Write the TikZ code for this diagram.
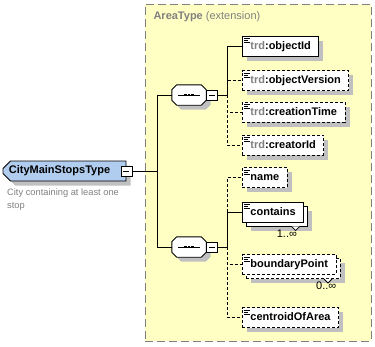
\documentclass[tikz,border=0pt]{standalone}
\usepackage{fontspec}
\setmainfont{Liberation Sans}
\usetikzlibrary{positioning, shapes.misc, shadows}

\definecolor{areaYellow}{RGB}{255,255,196}
\definecolor{shadowGray}{RGB}{192,192,192}
\definecolor{typeBlue}{RGB}{176,204,238}
\definecolor{noteGray}{RGB}{128,128,128}

\newcommand\trdprefix{\textcolor{noteGray}{trd}:}

\tikzset{
  conn/.style={line width=0.9pt},
  opt/.style={dash pattern=on 3pt off 2pt},
  boxshadow/.style={drop shadow={shadow xshift=4.5pt, shadow yshift=-4.5pt,
      fill=shadowGray, opacity=1, draw=none}},
  % element box with the little "three lines" mark in its corner
  elembase/.style={
    draw, fill=white, line width=0.9pt,
    font=\fontsize{11}{13}\selectfont\bfseries,
    minimum height=20pt, inner xsep=8pt, inner ysep=0pt,
    text height=8pt, text depth=2pt, anchor=west,
    path picture={
      \draw[solid, line width=0.8pt]
        ([shift={(2pt,-2.5pt)}]path picture bounding box.north west) -- ++(6pt,0pt)
        ([shift={(2pt,-4.5pt)}]path picture bounding box.north west) -- ++(4pt,0pt)
        ([shift={(2pt,-6.5pt)}]path picture bounding box.north west) -- ++(6pt,0pt);
    }
  },
  elem/.style={elembase, boxshadow},
  optelem/.style={elem, opt},
  backelem/.style={elem, path picture={}},
  % sequence compositor: only holds the place, the body is drawn by \seqbody
  seq/.style={minimum width=34pt, minimum height=20pt, inner sep=0pt},
  sign/.style={
    draw, fill=white, line width=0.9pt,
    minimum width=11pt, minimum height=10pt, inner sep=0pt,
    path picture={
      \draw[line width=0.9pt]
        ([xshift=-3pt]path picture bounding box.center) --
        ([xshift=3pt]path picture bounding box.center);
    }
  },
  typenode/.style={
    chamfered rectangle, chamfered rectangle xsep=4pt,
    chamfered rectangle corners={north west, south west},
    draw, fill=typeBlue, line width=0.9pt,
    font=\fontsize{11}{13}\selectfont\bfseries,
    minimum width=123pt, minimum height=20pt, inner sep=0pt, boxshadow
  },
  areabox/.style={
    draw=noteGray, fill=areaYellow, line width=0.9pt,
    dash pattern=on 8pt off 4pt, anchor=north west,
    minimum width=226pt, minimum height=337pt
  },
  mult/.style={font=\fontsize{11}{13}\selectfont, inner sep=0pt},
  note/.style={font=\fontsize{9.3}{12.5}\selectfont, text=noteGray,
    align=left, inner sep=0pt}
}

% octagon with the dotted bar, around a seq node
\newcommand\seqbody[1]{%
  \draw[line width=0.9pt, fill=white, boxshadow]
    ([xshift=5pt]#1.north west) -- ([xshift=-5pt]#1.north east)
    -- ([yshift=-5pt]#1.north east) -- ([yshift=5pt]#1.south east)
    -- ([xshift=-5pt]#1.south east) -- ([xshift=5pt]#1.south west)
    -- ([yshift=5pt]#1.south west) -- ([yshift=-5pt]#1.north west) -- cycle;
  \draw[line width=0.9pt] ([xshift=-11pt]#1.center) -- ([xshift=11pt]#1.center);
  \foreach \dx in {-3.5,0,3.5}
    \fill[black] ([xshift=\dx pt]#1.center) +(-1.3pt,-1.3pt) rectangle +(1.3pt,1.3pt);
}

\begin{document}
\begin{tikzpicture}[x=1pt, y=-1pt]
  \useasboundingbox (0,0) rectangle (375,346);

  % extension group
  \node[areabox] (area) at (145,4) {};
  \node[anchor=west, text=noteGray, font=\fontsize{11}{13}\selectfont]
    (areaTitle) at (150,17) {\textbf{AreaType} (extension)};

  % complex type
  \node[typenode] (cityType) at (64.5,171) {CityMainStopsType\hspace*{10pt}};
  \node[sign] (cityTypeSign) at (cityType.east) {};
  \node[note, anchor=north west] (cityNote) at (7,189)
    {City containing at least one\\stop};

  % sequences
  \node[seq] (seqA) at (189,95) {};
  \seqbody{seqA}
  \node[sign, right=0pt of seqA] (seqASign) {};
  \node[seq] (seqB) at (189,247) {};
  \seqbody{seqB}
  \node[sign, right=0pt of seqB] (seqBSign) {};

  % inherited elements
  \node[elem] (objectId) at (242,46) {\trdprefix objectId};
  \node[optelem] (objectVersion) at (242,80.5) {\trdprefix objectVersion};
  \node[optelem] (creationTime) at (242,112) {\trdprefix creationTime};
  \node[optelem] (creatorId) at (242,145) {\trdprefix creatorId};

  % own elements
  \node[optelem] (nameElem) at (242,177.5) {name};

  \node[backelem] (containsBack) at (246,216) {\phantom{contains}};
  \node[elembase] (contains) at (242,212) {contains};
  \draw[fill=white, line width=0.8pt] ([xshift=-16.5pt]containsBack.south east)
    -- ++(4,4) -- ++(4,-4);
  \node[mult, anchor=north east] (containsMult)
    at ([xshift=-11pt, yshift=-3pt]containsBack.south east) {1..∞};

  \node[backelem, opt] (boundaryBack) at (246,268.5) {\phantom{boundaryPoint}};
  \node[elembase, opt] (boundaryPoint) at (242,264.5) {boundaryPoint};
  \draw[fill=white, line width=0.8pt] ([xshift=-16.5pt]boundaryBack.south east)
    -- ++(4,4) -- ++(4,-4);
  \node[mult, anchor=north east] (boundaryMult)
    at ([xshift=-4pt, yshift=-3pt]boundaryBack.south east) {0..∞};

  \node[optelem] (centroidOfArea) at (242,317.5) {centroidOfArea};

  % connectors
  \coordinate (rootFork) at (157,171);
  \coordinate (seqAFork) at (227,95);
  \coordinate (seqBFork) at (227,247);

  \draw[conn] (cityTypeSign.east) -- (rootFork);
  \draw[conn] (rootFork) |- (seqA.west);
  \draw[conn] (rootFork) |- (seqB.west);

  \draw[conn] (seqASign.east) -- (seqAFork);
  \draw[conn] (seqAFork) |- (objectId.west);
  \draw[conn, opt] (seqAFork) |- (objectVersion.west);
  \draw[conn, opt] (seqAFork) |- (creationTime.west);
  \draw[conn, opt] (seqAFork) |- (creatorId.west);

  \draw[conn] (seqBSign.east) -- (seqBFork);
  \draw[conn, opt] (seqBFork) |- (nameElem.west);
  \draw[conn] (seqBFork) |- (contains.west);
  \draw[conn, opt] (seqBFork) |- (boundaryPoint.west);
  \draw[conn, opt] (seqBFork) |- (centroidOfArea.west);
\end{tikzpicture}
\end{document}
